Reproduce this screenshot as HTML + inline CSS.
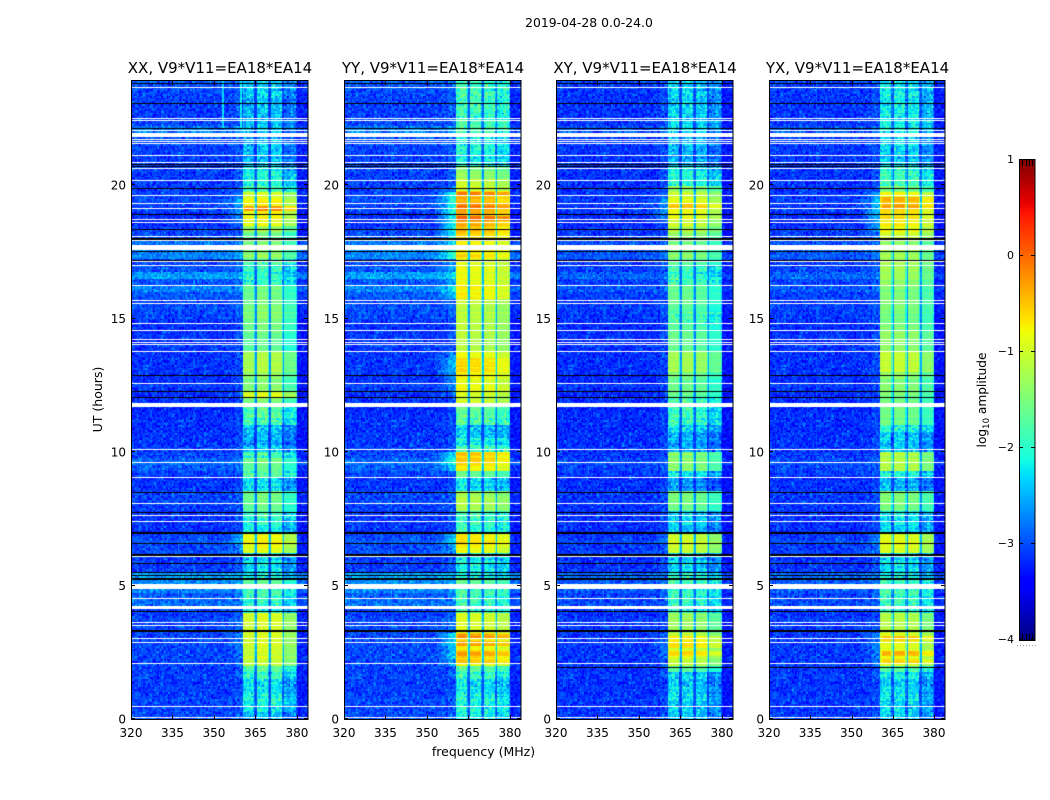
<!DOCTYPE html>
<html lang="en">
<head>
<meta charset="utf-8">
<title>2019-04-28 0.0-24.0</title>
<style>
html,body{margin:0;padding:0;background:#fff}
#figure{position:relative;width:1050px;height:800px;overflow:hidden;background:#fff;font-family:"DejaVu Sans","Liberation Sans",sans-serif}
canvas{position:absolute;display:block}
#overlay{position:absolute;left:0;top:0}
text{font-family:"DejaVu Sans","Liberation Sans",sans-serif;fill:#000}
</style>
</head>
<body>
<div id="figure">
<canvas id="heat0"></canvas>
<canvas id="heat1"></canvas>
<canvas id="heat2"></canvas>
<canvas id="heat3"></canvas>
<canvas id="cbar"></canvas>
<svg id="overlay" width="1050" height="800" viewBox="0 0 1050 800">
<text x="589" y="27" text-anchor="middle" font-size="12.4">2019-04-28 0.0-24.0</text>
<text x="483.5" y="756" text-anchor="middle" font-size="12.5">frequency (MHz)</text>
<text transform="translate(102,399.5) rotate(-90)" text-anchor="middle" font-size="12.5">UT (hours)</text>
<text transform="translate(986,400) rotate(-90)" text-anchor="middle" font-size="12.2">log<tspan font-size="8.5" dy="3">10</tspan><tspan dy="-3"> amplitude</tspan></text>
</svg>
</div>
<script>
const panelTitles = ["XX, V9*V11=EA18*EA14","YY, V9*V11=EA18*EA14","XY, V9*V11=EA18*EA14","YX, V9*V11=EA18*EA14"];
const panelNames = ["xx","yy","xy","yx"];
const xTicks = [320,335,350,365,380];
const yTicks = [0,5,10,15,20];
const cbarTicks = [1,0,-1,-2,-3,-4];

/* band amplitude (log10) per quarter-hour, from 00:00 upward */
const bandXX = [
-2.5,-2.2,-2.1,-2.2, -2.3,-2.3,-2.0,-1.8, -1.15,-1.05,-1.05,-1.0, -0.95,-1.05,-1.0,-1.0,
-2.1,-2.0,-1.9,-1.9, -1.7,-2.2,-2.3,-2.3, -2.3,-0.9,-0.85,-0.85, -2.2,-2.1,-1.9,-1.7,
-1.6,-1.6,-2.3,-2.3, -1.8,-1.7,-1.6,-1.9, -2.4,-2.6,-2.5,-2.4, -1.9,-1.8,-1.8,-1.6,
-1.0,-1.5,-1.5,-1.4, -1.25,-1.25,-1.25,-1.7, -1.7,-1.7,-1.6,-1.6, -1.5,-1.5,-1.6,-1.6,
-1.6,-2.0,-2.0,-2.0, -1.9,-1.4,-1.5,-1.5, -1.6,-1.3,-0.9,-0.85, -0.85,-0.8,-1.0,-1.8,
-2.1,-2.1,-2.2,-2.5, -2.5,-2.5,-2.5,-2.5, -2.5,-2.5,-2.5,-2.5, -2.5,-2.4,-2.4,-2.3];
const bandYY = [
-2.2,-2.1,-2.1,-2.2, -2.3,-2.3,-2.0,-1.8, -0.9,-0.7,-0.8,-0.7, -0.6,-1.0,-1.0,-1.0,
-1.9,-1.9,-1.9,-1.9, -1.7,-2.2,-2.2,-2.2, -2.2,-0.85,-0.75,-0.75, -2.0,-2.0,-1.9,-1.3,
-1.2,-1.3,-2.3,-2.3, -1.7,-0.8,-0.6,-0.6, -1.9,-2.2,-2.4,-2.4, -1.8,-1.8,-1.7,-1.1,
-1.0,-0.9,-0.9,-0.8, -0.7,-0.7,-0.9,-1.2, -1.2,-1.2,-1.2,-1.2, -1.2,-1.2,-1.1,-0.8,
-0.8,-0.9,-0.9,-0.9, -1.0,-0.7,-0.7,-0.8, -0.6,-0.5,-0.45,-0.45, -0.45,-0.5,-0.5,-1.0,
-1.1,-1.4,-1.5,-2.2, -2.2,-2.1,-2.2,-2.0, -1.9,-1.9,-2.0,-1.9, -1.9,-1.9,-1.9,-1.9];
const bandXY = [
-2.4,-2.3,-2.3,-2.3, -2.3,-2.4,-2.3,-1.7, -1.1,-1.0,-1.0,-1.0, -1.0,-1.3,-1.3,-1.3,
-1.95,-1.9,-1.9,-1.95, -1.8,-2.0,-2.3,-2.3, -2.3,-1.0,-1.0,-1.0, -2.4,-2.3,-2.3,-1.6,
-1.5,-1.5,-2.6,-2.6, -2.2,-1.4,-1.4,-1.4, -2.5,-2.5,-2.5,-2.2, -1.9,-1.9,-1.9,-1.8,
-1.6,-1.6,-1.6,-1.5, -1.25,-1.25,-1.25,-1.6, -1.6,-1.6,-1.7,-1.8, -1.8,-1.7,-1.6,-1.6,
-1.6,-1.8,-1.9,-1.9, -1.7,-1.4,-1.5,-1.5, -1.3,-1.1,-1.0,-0.85, -0.85,-0.85,-1.0,-1.3,
-2.0,-2.0,-2.1,-2.5, -2.5,-2.5,-2.4,-2.3, -2.3,-2.3,-2.3,-2.3, -2.3,-2.3,-2.3,-2.2];
const bandYX = [
-2.4,-2.3,-2.3,-2.3, -2.3,-2.4,-2.2,-1.8, -1.0,-0.95,-0.95,-0.95, -0.9,-1.2,-1.2,-1.2,
-1.9,-1.9,-1.9,-1.9, -1.9,-2.2,-2.3,-2.3, -2.3,-0.95,-0.95,-0.95, -2.3,-2.3,-2.2,-1.6,
-1.5,-1.5,-2.5,-2.5, -2.1,-1.2,-1.2,-1.2, -2.4,-2.4,-2.4,-2.0, -1.6,-1.6,-1.6,-1.6,
-1.5,-1.5,-1.5,-1.4, -1.1,-1.1,-1.1,-1.4, -1.4,-1.4,-1.5,-1.6, -1.6,-1.5,-1.5,-1.5,
-1.5,-1.4,-1.3,-1.3, -1.3,-1.3,-1.3,-1.4, -1.0,-0.8,-0.75,-0.7, -0.7,-0.7,-0.8,-1.5,
-1.9,-1.9,-2.0,-2.4, -2.4,-2.4,-2.3,-2.2, -2.2,-2.2,-2.2,-2.2, -2.2,-2.2,-2.2,-2.2];
const bandLevels = [bandXX,bandYY,bandXY,bandYX];

/* mean off-band amplitude per quarter-hour */
const backgroundLevel = [
-3.05,-3.05,-3.05,-3.1, -3.1,-3.1,-3.1,-3.1, -3.05,-3.05,-3.05,-3.05, -3.05,-3.05,-3.1,-3.1,
-3.05,-2.85,-2.95,-2.75, -2.7,-2.6,-3.1,-3.1, -3.1,-3.05,-3.05,-3.05, -3.15,-3.15,-3.15,-3.1,
-3.05,-3.05,-3.15,-3.15, -3.1,-2.95,-2.9,-3.05, -3.1,-3.15,-3.15,-3.15, -3.15,-3.2,-3.2,-3.15,
-3.15,-3.15,-3.15,-3.15, -3.15,-3.15,-3.15,-3.15, -3.15,-3.15,-3.15,-3.15, -3.05,-3.05,-3.05,-2.95,
-2.75,-3.0,-2.6,-3.0, -3.05,-2.75,-2.75,-2.85, -3.05,-3.1,-3.15,-3.2, -3.1,-3.05,-3.05,-3.1,
-3.1,-3.1,-3.05,-3.1, -3.1,-3.1,-3.05,-2.95, -2.8,-3.05,-3.1,-3.1, -3.1,-3.05,-3.0,-2.95];
const panelBgOffset = [0,0.02,-0.05,-0.03];
const panelStripeWeight = [1,1,0.5,0.5];
const subbandOffset = [[0,0.1,0.05,-0.35],[0.1,0.05,0,-0.15],[0,0,-0.1,-0.4],[0.05,0.05,0,-0.3]];
const notchFreqs = [365,370,375];

/* strongest narrow rows: panel, UT, boost */
const hotPanels = [0,0,1,1,1,1,1,1,1,2,2,2,2,3,3,3,3,3];
const hotUT = [19.14,12.05,19.18,19.7,18.77,3.07,2.85,2.47,2.17,19.2,2.47,2.8,3.03,19.2,19.45,2.47,2.17,3.03];
const hotBoost = [0.55,0.2,0.35,0.35,0.35,0.35,0.3,0.4,0.3,0.4,0.45,0.35,0.3,0.4,0.3,0.55,0.35,0.4];

/* flagged (white) and zero-amplitude (black) time ranges, hours */
const flagStarts = [23.62,22.47,22.40,22.01,21.81,21.68,21.60,21.52,21.07,20.81,20.59,20.14,19.58,19.28,19.09,18.68,18.56,18.04,17.89,17.57,17.10,16.95,16.20,15.64,15.53,14.78,14.55,14.18,14.07,13.99,13.73,12.53,11.69,10.08,9.60,9.01,8.07,7.59,7.36,6.05,5.82,4.87,4.51,4.12,3.61,3.50,2.98,2.86,2.04,0.43,0.05];
const flagEnds = [23.66,22.51,22.44,22.05,21.96,21.72,21.64,21.56,21.11,20.85,20.63,20.18,19.62,19.32,19.13,18.72,18.60,18.08,17.93,17.76,17.14,16.99,16.24,15.68,15.57,14.82,14.59,14.22,14.11,14.03,13.77,12.57,11.84,10.12,9.64,9.05,8.11,7.63,7.40,6.09,5.86,5.06,4.55,4.23,3.65,3.54,3.02,2.90,2.08,0.47,0.09];
const dropUT = [23.79,23.04,22.11,20.76,20.68,19.89,18.88,18.32,17.98,17.53,17.16,12.85,12.25,12.03,8.50,7.72,6.95,6.59,6.14,5.81,5.47,5.36,5.25,4.01,3.30];
const dropSpan = [0.04,0.04,0.04,0.04,0.04,0.04,0.04,0.04,0.08,0.04,0.04,0.04,0.04,0.04,0.04,0.04,0.08,0.04,0.08,0.04,0.04,0.04,0.08,0.04,0.08];
const crossDropUT = [1.95];

/* narrow interference */
const spikeFreq = [353.2,356,359.7];
const spikeLevel = [-2.3,-2.4,-2.2];
const spikeFrom = 22.1;
const dotPanels = [0,0,0,0,0,0,0,0,0,0,0,1,1,1,2,2,3,0,0,2,3];
const dotFreq = [321,322,329,333,337,339,349,351,352,353,360,337,349,357,349,350,348,350,334,331,329];
const dotUT = [15,15,15,15,15,15,15,15,15,15,15,15.2,15,14.5,15,15,15,7.9,11.4,22.2,22.2];
const dotLevel = [-1.7,-1.8,-0.9,-1.0,-2.0,-2.0,-2.0,-0.4,-1.6,-1.6,-2.0,-1.7,-1.7,-1.8,-1.9,-1.9,-2.1,-1.8,-1.8,-1.6,-1.6];

/* speckle lookup tables for receiver noise */
const speckleA = [0.3,-0.8,0.5,-0.1,0.9,-0.6,0.2,-0.9,0.7,-0.3,0.1,0.8,-0.7,0.4,-0.2,-1,0.6,0,-0.5,1,-0.4,0.3,-0.8,0.5,0.9,-0.1,-0.6,0.2,0.7,-0.9,0.4,-0.3,0.8,-0.7,0.1,-0.2,0.6,-0.5,1,-1,0.2];
const speckleB = [-0.4,0.6,0.1,-0.9,0.3,0.8,-0.2,-0.6,1,-0.7,0.2,0.5,-1,0.7,-0.1,0.4,-0.5,0.9,-0.3,0,0.6,-0.8,0.3,-0.4,0.8,-0.6,0.1,0.5,-0.9,0.2,0.7,-0.2,-0.7,0.9,-0.1,0.4,-1,0.6,-0.3,0.2,-0.5,0.8,0,-0.8,0.5,-0.4,1];
const speckleC = [0.7,-0.2,-0.9,0.4,0.1,-0.6,1,-0.4,0.3,-1,0.6,0,-0.7,0.9,-0.3,0.2,-0.8,0.5,-0.1,0.8,-0.5,0.3,-0.9,0.6,-0.2,0.4,-0.6,1,-0.3,0.1,-0.7];
const rowRipple = [0.2,-0.5,0.6,0.1,-0.8,0.4,-0.1,0.7,-0.4,0.3,-0.7,0.5,0,-0.3,0.8,-0.6,0.2,-0.2,0.5,-0.9,0.1,0.4,-0.3];

const PANEL_LEFT = [131,344,556,769];
const PANEL_W = [177,177,177,176];
const PLOT_TOP = 81, PLOT_BOTTOM = 719;
const FREQ_MIN = 320, FREQ_MAX = 384, UT_MAX = 23.9;
const COLS = 128, ROWS = 384;
const CB_X = 1019, CB_W = 16, CB_TOP = 160, CB_BOTTOM = 640, V_MIN = -4, V_MAX = 1;

function xScale(i,f){return PANEL_LEFT[i]+(f-FREQ_MIN)/(FREQ_MAX-FREQ_MIN)*PANEL_W[i];}
function yScale(u){return PLOT_BOTTOM-u/UT_MAX*(PLOT_BOTTOM-PLOT_TOP);}
function cbScale(v){return CB_BOTTOM-(v-V_MIN)/(V_MAX-V_MIN)*(CB_BOTTOM-CB_TOP);}

function seg(t,p){
  for(let i=1;i<p.length;i++){
    if(t<=p[i][0]){const a=p[i-1],b=p[i];return a[1]+(b[1]-a[1])*(t-a[0])/(b[0]-a[0]);}
  }
  return p[p.length-1][1];
}
const jetR=[[0,0],[.35,0],[.66,1],[.89,1],[1,.5]];
const jetG=[[0,0],[.125,0],[.375,1],[.64,1],[.91,0],[1,0]];
const jetB=[[0,.5],[.11,1],[.34,1],[.65,0],[1,0]];
function jet(v){
  const t=Math.max(0,Math.min(1,(v-V_MIN)/(V_MAX-V_MIN)));
  return 'rgb('+Math.round(seg(t,jetR)*255)+','+Math.round(seg(t,jetG)*255)+','+Math.round(seg(t,jetB)*255)+')';
}
function texture(c,r){
  return (speckleA[(c*c*3+r*7+c*r)%speckleA.length]
    +speckleB[(c*11+r*r*5+c*r*3)%speckleB.length]
    +speckleC[(c*c*r+r*r*2+c*5)%speckleC.length])/1.9;
}
function cellValue(p,c,r){
  const f=FREQ_MIN+(c+.5)*(FREQ_MAX-FREQ_MIN)/COLS;
  const u=(r+.5)*UT_MAX/ROWS;
  const bin=Math.min(backgroundLevel.length-1,Math.floor(u*4));
  const lvl=bandLevels[p][bin];
  const bg=-3.1+(backgroundLevel[bin]+3.1)*panelStripeWeight[p]+panelBgOffset[p];
  const tex=texture(c,r);
  const rip=rowRipple[r%rowRipple.length];
  let v;
  if(f>=360.5&&f<380){
    const sb=Math.min(3,Math.floor((f-360)/5));
    let boost=0;
    for(let h=0;h<hotUT.length;h++){
      if(hotPanels[h]===p&&Math.abs(u-hotUT[h])<0.1&&f>360.9)boost=Math.max(boost,hotBoost[h]);
    }
    const amp=lvl<-1.7?0.38:0.07;
    v=lvl+subbandOffset[p][sb]+boost+tex*amp+rip*(lvl<-1.7?0.16:0.12);
    for(let n=0;n<notchFreqs.length;n++){
      const d=f-notchFreqs[n];
      if(d>0&&d<0.5)v=-2.9+(lvl+2)*0.4+tex*0.12;
      else if(d<0&&d>-0.5)v=v-0.6;
    }
    if(f>379.5)v-=0.3;
  }else if(f<360.5){
    const leak=Math.max(0,lvl+1.1)*Math.max(0,1-(360.5-f)/8);
    v=bg+leak*1.6+tex*0.34;
    if(f>358)v+=0.1;
    if(p===0&&u>spikeFrom){
      for(let s=0;s<spikeFreq.length;s++){
        if(Math.abs(f-spikeFreq[s])<0.25)v=spikeLevel[s]+tex*0.1;
      }
    }
    for(let d=0;d<dotFreq.length;d++){
      if(dotPanels[d]===p&&Math.abs(f-dotFreq[d])<0.25&&Math.abs(u-dotUT[d])<0.032)v=dotLevel[d];
    }
  }else{
    v=bg-0.15+tex*0.3;
  }
  return v;
}
function drawPanel(p){
  const W=PANEL_W[p];
  const cv=document.getElementById('heat'+p);
  cv.width=W;
  cv.height=PLOT_BOTTOM-PLOT_TOP;
  cv.style.left=PANEL_LEFT[p]+'px';
  cv.style.top=PLOT_TOP+'px';
  const ctx=cv.getContext('2d');
  const H=cv.height;
  for(let r=0;r<ROWS;r++){
    const y1=Math.round(H-(r+1)/ROWS*H), y0=Math.round(H-r/ROWS*H);
    for(let c=0;c<COLS;c++){
      const x0=Math.round(c/COLS*W), x1=Math.round((c+1)/COLS*W);
      ctx.fillStyle=jet(cellValue(p,c,r));
      ctx.fillRect(x0,y1,x1-x0,y0-y1);
    }
  }
  ctx.fillStyle='#fff';
  for(let i=0;i<flagStarts.length;i++){
    const span=flagEnds[i]-flagStarts[i];
    const ya=Math.round(yScale(flagEnds[i])-PLOT_TOP);
    const yb=Math.round(yScale(flagStarts[i])-PLOT_TOP);
    ctx.fillRect(0,ya,W,span<0.06?1:yb-ya);
  }
  ctx.fillStyle='#000';
  for(let i=0;i<dropUT.length;i++){
    const ya=Math.round(yScale(dropUT[i]+dropSpan[i]/2)-PLOT_TOP);
    ctx.fillRect(0,ya,W,dropSpan[i]>0.06?2:1);
  }
  if(p>=2){
    for(let i=0;i<crossDropUT.length;i++){
      ctx.fillRect(0,Math.round(yScale(crossDropUT[i])-PLOT_TOP),W,1);
    }
  }
}
function drawColorbar(){
  const cv=document.getElementById('cbar');
  cv.width=CB_W;
  cv.height=CB_BOTTOM-CB_TOP;
  cv.style.left=CB_X+'px';
  cv.style.top=CB_TOP+'px';
  const ctx=cv.getContext('2d');
  for(let y=0;y<cv.height;y++){
    ctx.fillStyle=jet(V_MAX-(y+.5)/cv.height*(V_MAX-V_MIN));
    ctx.fillRect(0,y,CB_W,1);
  }
}
const svg=document.getElementById('overlay');
const NS='http://www.w3.org/2000/svg';
function line(x1,y1,x2,y2,color){
  const el=document.createElementNS(NS,'line');
  el.setAttribute('x1',x1);
  el.setAttribute('y1',y1);
  el.setAttribute('x2',x2);
  el.setAttribute('y2',y2);
  el.setAttribute('stroke',color||'#000');
  el.setAttribute('stroke-width','1');
  el.setAttribute('shape-rendering','crispEdges');
  svg.appendChild(el);
  return el;
}
function label(x,y,str,anchor,size){
  const el=document.createElementNS(NS,'text');
  el.setAttribute('x',x);
  el.setAttribute('y',y);
  el.setAttribute('text-anchor',anchor);
  el.setAttribute('font-size',size);
  el.textContent=str;
  svg.appendChild(el);
  return el;
}
function fmt(v){return v<0?'\u2212'+Math.abs(v):String(v);}

for(let p=0;p<4;p++){
  drawPanel(p);
  const L=PANEL_LEFT[p], R=L+PANEL_W[p];
  const frame=document.createElementNS(NS,'rect');
  frame.setAttribute('x',L+0.5);
  frame.setAttribute('y',PLOT_TOP-0.5);
  frame.setAttribute('width',PANEL_W[p]-0.5);
  frame.setAttribute('height',PLOT_BOTTOM-PLOT_TOP+1);
  frame.setAttribute('fill','none');
  frame.setAttribute('stroke','#000');
  frame.setAttribute('shape-rendering','crispEdges');
  
  
  svg.appendChild(frame);
  const title=label((L+R)/2+0.5,73,panelTitles[p],'middle',15);
  
  
  xTicks.forEach(function(t){
    const x=Math.round(xScale(p,t))+0.5;
    const tb=line(x,PLOT_BOTTOM,x,PLOT_BOTTOM-4);
    
    
    const tt=line(x,PLOT_TOP,x,PLOT_TOP+4);
    
    
    const lb=label(xScale(p,t),737,String(t),'middle',12);
    
    
  });
  yTicks.forEach(function(t){
    const y=Math.round(yScale(t))-0.5;
    const tl=line(L,y,L+4,y);
    
    
    const tr=line(R-4,y,R,y);
    
    
    const lb=label(L-5,yScale(t)+4.5,String(t),'end',12);
    
    
  });
}
drawColorbar();
const cbFrame=document.createElementNS(NS,'rect');
cbFrame.setAttribute('x',CB_X+0.5);
cbFrame.setAttribute('y',CB_TOP-0.5);
cbFrame.setAttribute('width',CB_W-0.5);
cbFrame.setAttribute('height',CB_BOTTOM-CB_TOP+1);
cbFrame.setAttribute('fill','none');
cbFrame.setAttribute('stroke','#000');
cbFrame.setAttribute('shape-rendering','crispEdges');


svg.appendChild(cbFrame);
cbarTicks.forEach(function(t){
  const y=Math.round(cbScale(t))-0.5;
  const a=line(CB_X,y,CB_X+4,y);
  
  
  const b=line(CB_X+CB_W-4,y,CB_X+CB_W,y);
  
  
  const lb=label(1014,cbScale(t)+3,fmt(t),'end',11);
  
  
});
[3,6.5,10,13].forEach(function(dx){
  const x=CB_X+Math.round(dx)+0.5;
  const a=line(x,CB_TOP,x,CB_TOP+6);
  
  
  const b=line(x,CB_BOTTOM-6,x,CB_BOTTOM);
  
  
});
[-2,1,4,7,10,13,16].forEach(function(dx){
  const d=line(CB_X+dx,645.5,CB_X+dx+1,645.5,'#999');
  
  
});
</script>
</body>
</html>
